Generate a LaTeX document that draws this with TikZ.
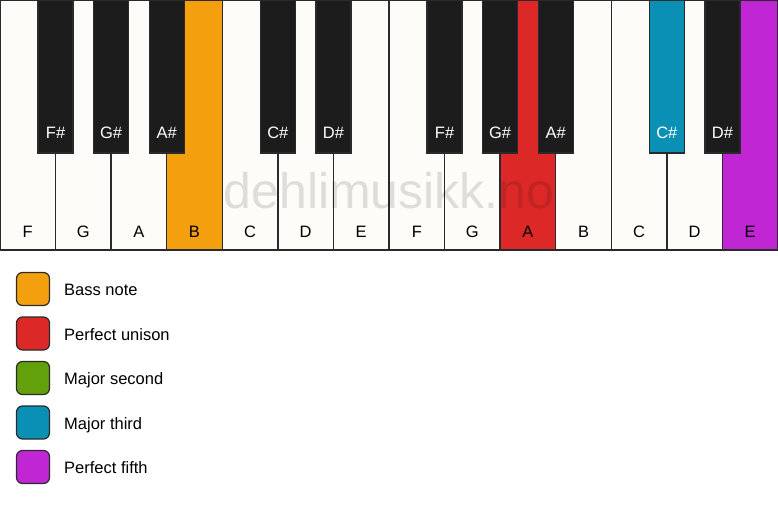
\documentclass[tikz,border=0pt]{standalone}
\usepackage{fontspec}
\setmainfont{Liberation Sans}
\definecolor{keywhite}{HTML}{FDFCF8}
\definecolor{keyblack}{HTML}{1C1C1C}
\definecolor{keyedge}{HTML}{2A2A2A}
\definecolor{bassc}{HTML}{F4A00E}
\definecolor{unisonc}{HTML}{DD2828}
\definecolor{secondc}{HTML}{62A10C}
\definecolor{thirdc}{HTML}{0A90B4}
\definecolor{fifthc}{HTML}{C026D3}
\begin{document}
\begin{tikzpicture}[x=1pt,y=-1pt,
  keyline/.style={draw=keyedge, line width=1.3pt},
  whitekey/.style={keyline, minimum width=55.571pt, minimum height=250pt, anchor=north west, inner sep=0pt, outer sep=0pt},
  blackkey/.style={keyline, minimum width=35pt, minimum height=153pt, anchor=north, inner sep=0pt, outer sep=0pt},
  keyfont/.style={font=\fontsize{16.5}{18}\selectfont},
  wlabel/.style={keyfont, text=black, anchor=base, inner sep=0pt},
  blabel/.style={keyfont, text=white, anchor=base, inner sep=0pt},
  swatch/.style={draw=keyedge, line width=1.2pt, rounded corners=6pt, minimum size=33pt, inner sep=0pt},
  legtext/.style={keyfont, text=black, anchor=base west, inner sep=0pt},
  watermark/.style={font=\fontsize{50}{55}\selectfont, text=black, text opacity=0.12, anchor=base, inner sep=0pt}]
\useasboundingbox (0,0) rectangle (778,506);
\fill[white] (0,0) rectangle (778,506);
% white keys
\foreach \i/\n/\c in {0/F/keywhite,1/G/keywhite,2/A/keywhite,3/B/bassc,4/C/keywhite,5/D/keywhite,6/E/keywhite,7/F/keywhite,8/G/keywhite,9/A/unisonc,10/B/keywhite,11/C/keywhite,12/D/keywhite,13/E/fifthc}{
  \node[whitekey, fill=\c] (w\i) at ({\i*55.571},0) {};
  \node[wlabel] (wl\i) at ({(\i+0.5)*55.571},237) {\n};
}
% watermark
\node[watermark] (wm) at (389,208) {dehlimusikk.no};
% black keys
\foreach \i/\n/\c in {1/F\#/keyblack,2/G\#/keyblack,3/A\#/keyblack,5/C\#/keyblack,6/D\#/keyblack,8/F\#/keyblack,9/G\#/keyblack,10/A\#/keyblack,12/C\#/thirdc,13/D\#/keyblack}{
  \node[blackkey, fill=\c] (b\i) at ({\i*55.571},0) {};
  \node[blabel] (bl\i) at ({\i*55.571},138.5) {\n};
}
% legend
\foreach \k/\c/\t in {0/bassc/Bass note,1/unisonc/Perfect unison,2/secondc/Major second,3/thirdc/Major third,4/fifthc/Perfect fifth}{
  \node[swatch, fill=\c] (s\k) at (33,{289+\k*44.5}) {};
  \node[legtext] (t\k) at (64,{295.5+\k*44.5}) {\t};
}
\end{tikzpicture}
\end{document}
